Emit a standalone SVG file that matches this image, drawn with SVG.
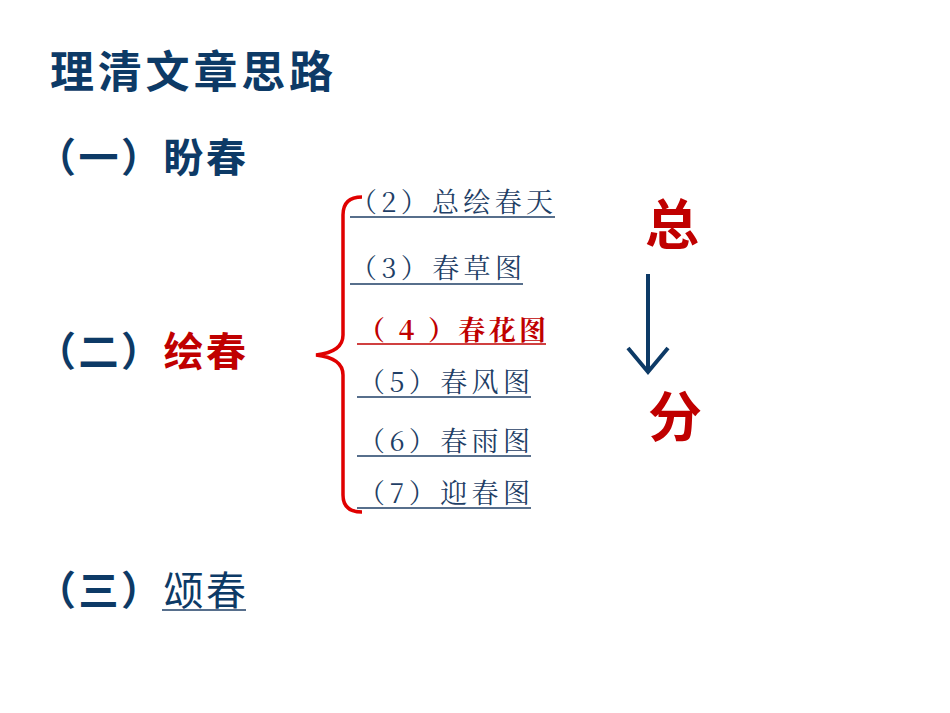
<svg xmlns="http://www.w3.org/2000/svg" width="950" height="713" viewBox="0 0 950 713">
<style>
.h{font-family:"Noto Sans CJK SC","Noto Sans",sans-serif;font-weight:bold;font-size:40px;fill:#0d3a66}
.s{font-family:"Noto Serif CJK SC","Noto Sans CJK SC",serif;font-size:27px;fill:#1f3f66}
.u{stroke:#1f3f66;stroke-width:1.5}
.r{fill:#c00000}
</style>
<rect width="950" height="713" fill="#fff"/>
<g id="title"><text class="h" x="50" y="88" style="font-size:44px" textLength="283" lengthAdjust="spacing">理清文章思路</text></g>
<g id="n1"><text class="h" x="36" y="172" textLength="210" lengthAdjust="spacing">（一）盼春</text></g>
<g id="n2"><text class="h" x="36" y="366" textLength="210" lengthAdjust="spacing">（二）<tspan class="r">绘春</tspan></text></g>
<g id="n3"><text class="h" x="36" y="605" textLength="210" lengthAdjust="spacing">（三）<tspan style="font-weight:normal">颂春</tspan></text><line class="u" x1="162" y1="610" x2="246" y2="610"/></g>
<g id="connectors">
<path d="M362 197 Q343 197 343 215 L343 335 Q343 352 316 355 Q343 358 343 375 L343 495 Q343 512 362 512" fill="none" stroke="#e00000" stroke-width="3.5"/>
<line x1="648" y1="274" x2="648" y2="370" stroke="#0d3a66" stroke-width="4"/>
<path d="M628 348 L648 372 L668 348" fill="none" stroke="#0d3a66" stroke-width="4"/>
</g>
<g id="items">
<text class="s" x="350" y="212" textLength="203" lengthAdjust="spacing">（2）总绘春天</text><line class="u" x1="350" y1="217" x2="555" y2="217"/>
<text class="s" x="350" y="278" textLength="172" lengthAdjust="spacing">（3）春草图</text><line class="u" x1="350" y1="284" x2="523" y2="284"/>
<text class="s" x="358" y="340" textLength="188" lengthAdjust="spacing" style="fill:#c00000;font-weight:bold">（ 4 ）春花图</text><line x1="357" y1="344" x2="546" y2="344" stroke="#c00000" stroke-width="1.5"/>
<text class="s" x="358" y="392" textLength="172" lengthAdjust="spacing">（5）春风图</text><line class="u" x1="357" y1="397" x2="531" y2="397"/>
<text class="s" x="358" y="451" textLength="172" lengthAdjust="spacing">（6）春雨图</text><line class="u" x1="357" y1="456" x2="531" y2="456"/>
<text class="s" x="358" y="503" textLength="172" lengthAdjust="spacing">（7）迎春图</text><line class="u" x1="357" y1="508" x2="531" y2="508"/>
</g>
<g id="zong"><text x="645" y="245" style="font-family:'Noto Sans CJK SC',sans-serif;font-weight:bold;font-size:54px;fill:#c00000">总</text></g>
<g id="fen"><text x="648" y="437" style="font-family:'Noto Sans CJK SC',sans-serif;font-weight:bold;font-size:54px;fill:#c00000">分</text></g>
</svg>
